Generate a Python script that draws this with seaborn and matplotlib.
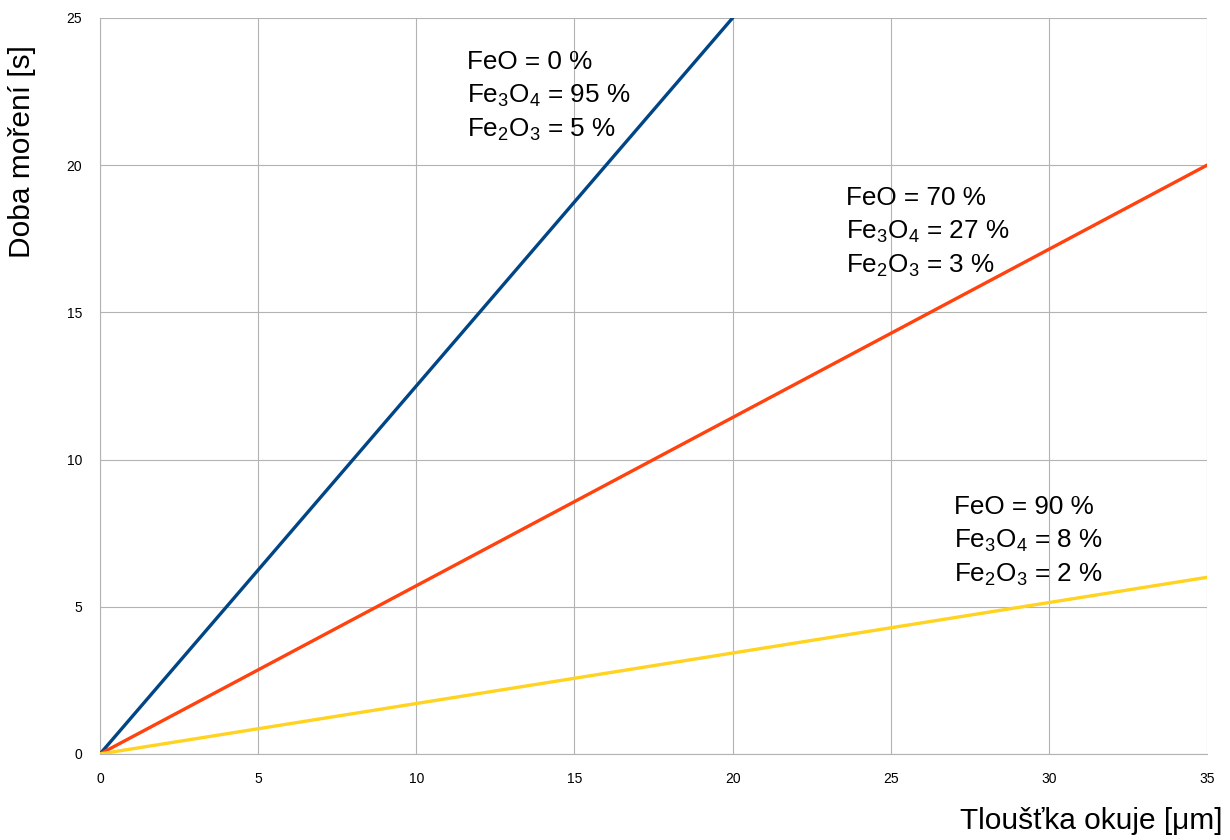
import numpy as np
import pandas as pd
import seaborn as sns
import matplotlib
matplotlib.use('Agg')
import matplotlib.pyplot as plt

# data: thickness of scale [um] vs pickling time [s]
blue_x = [0, 20]
blue_y = [0, 25]
red_x = [0, 35]
red_y = [0, 20]
yellow_x = [0, 35]
yellow_y = [0, 6]

labels = [
    ['FeO = 0 %', 'Fe$_3$O$_4$ = 95 %', 'Fe$_2$O$_3$ = 5 %'],
    ['FeO = 70 %', 'Fe$_3$O$_4$ = 27 %', 'Fe$_2$O$_3$ = 3 %'],
    ['FeO = 90 %', 'Fe$_3$O$_4$ = 8 %', 'Fe$_2$O$_3$ = 2 %'],
]
label_pos = [(11.6, 23.5), (23.6, 18.9), (27.0, 8.4)]

df = pd.DataFrame({
    'x': blue_x + red_x + yellow_x,
    'y': blue_y + red_y + yellow_y,
    's': ['a'] * 2 + ['b'] * 2 + ['c'] * 2,
})

sns.set_style('white')
plt.rcParams['font.family'] = ['Liberation Sans', 'DejaVu Sans']
plt.rcParams['text.color'] = 'black'
plt.rcParams['axes.labelcolor'] = 'black'
plt.rcParams['mathtext.fontset'] = 'custom'
plt.rcParams['mathtext.rm'] = 'Liberation Sans'
plt.rcParams['mathtext.it'] = 'Liberation Sans'

fig = plt.figure(figsize=(12.3, 8.4), dpi=100)
ax = fig.add_axes([0.0813, 0.1024, 0.9, 0.8762])

sns.lineplot(data=df, x='x', y='y', hue='s',
             palette=['#004586', '#ff420e', '#ffd320'],
             linewidth=2.4, legend=False, ax=ax, zorder=3)

ax.set_xlim(0, 35)
ax.set_ylim(0, 25)
ax.set_xticks(range(0, 36, 5))
ax.set_yticks(range(0, 26, 5))
ax.grid(True, color='#b3b3b3', linewidth=0.8)
for s in ['top', 'right']:
    ax.spines[s].set_visible(False)
for s in ['left', 'bottom']:
    ax.spines[s].set_color('#b3b3b3')
ax.tick_params(axis='both', length=6, color='#b3b3b3', labelcolor='black',
               labelsize=10, pad=7)

ax.set_xlabel('Tloušťka okuje [μm]', fontsize=21.5, loc='right')
ax.xaxis.set_label_coords(1.0136, -0.072)
ax.set_ylabel('Doba moření [s]', fontsize=21.5)
ax.yaxis.set_label_coords(-0.058, 0.818)

dy = 34 / 736 * 25
for lines, (lx, ly) in zip(labels, label_pos):
    for i, t in enumerate(lines):
        ax.text(lx, ly - i * dy, t, fontsize=18.8, va='center', ha='left')

fig.savefig('out.png', dpi=100)
